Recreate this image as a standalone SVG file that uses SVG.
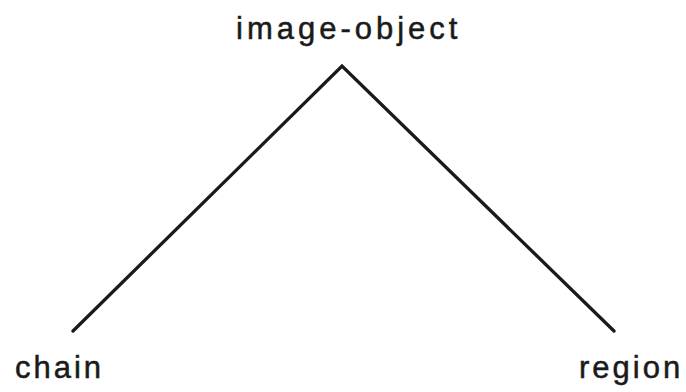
<svg xmlns="http://www.w3.org/2000/svg" width="686" height="392" viewBox="0 0 686 392">
<style>
text { font-family: "Liberation Sans", Arial, sans-serif; font-size: 31px; fill: #1a1a1a; stroke: #1a1a1a; stroke-width: 0.5; letter-spacing: 3px; }
.top { letter-spacing: 4px; }
.edge { stroke: #1a1a1a; stroke-width: 3.3; fill: none; stroke-linecap: round; stroke-linejoin: miter; }
</style>
<rect width="686" height="392" fill="#ffffff"/>
<g id="connectors">
<path class="edge" d="M73,331 L342,66 L614,331"/>
</g>
<g id="image-object"><text class="top" x="236" y="39">image-object</text></g>
<g id="chain"><text x="15" y="378">chain</text></g>
<g id="region"><text x="579" y="378">region</text></g>
</svg>
